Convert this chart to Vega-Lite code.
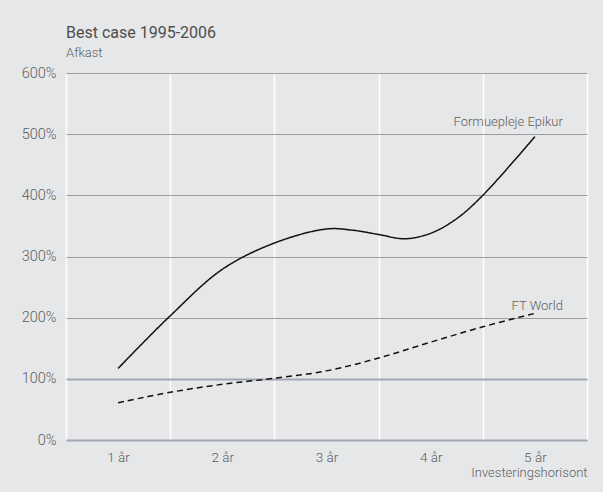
{
  "$schema": "https://vega.github.io/schema/vega-lite/v6.json",
  "width": 521,
  "height": 367,
  "autosize": {"type": "none"},
  "padding": {"left": 66, "top": 73, "right": 16, "bottom": 52},
  "background": "#e6e7e8",
  "title": {
    "text": "Best case 1995-2006",
    "subtitle": "Afkast",
    "anchor": "start",
    "frame": "group",
    "font": "Roboto",
    "fontSize": 16,
    "fontWeight": 400,
    "color": "#4d4e50",
    "subtitleFont": "Roboto",
    "subtitleFontSize": 13,
    "subtitleFontWeight": 300,
    "subtitleColor": "#5d5e61",
    "subtitlePadding": 6,
    "offset": 5
  },
  "config": {
    "view": {"stroke": null, "fill": "#e6e7e8"},
    "font": "Roboto"
  },
  "datasets": {
    "lines": [
      {"series": "Formuepleje Epikur", "t": 1.0, "v": 1.17},
      {"series": "Formuepleje Epikur", "t": 1.5, "v": 2.03},
      {"series": "Formuepleje Epikur", "t": 2.0, "v": 2.79},
      {"series": "Formuepleje Epikur", "t": 2.5, "v": 3.22},
      {"series": "Formuepleje Epikur", "t": 3.0, "v": 3.45},
      {"series": "Formuepleje Epikur", "t": 3.25, "v": 3.43},
      {"series": "Formuepleje Epikur", "t": 3.5, "v": 3.36},
      {"series": "Formuepleje Epikur", "t": 3.75, "v": 3.29},
      {"series": "Formuepleje Epikur", "t": 4.0, "v": 3.38},
      {"series": "Formuepleje Epikur", "t": 4.25, "v": 3.62},
      {"series": "Formuepleje Epikur", "t": 4.5, "v": 4.0},
      {"series": "Formuepleje Epikur", "t": 5.0, "v": 4.96},
      {"series": "FT World", "t": 1.0, "v": 0.61},
      {"series": "FT World", "t": 1.5, "v": 0.78},
      {"series": "FT World", "t": 2.0, "v": 0.91},
      {"series": "FT World", "t": 2.5, "v": 1.01},
      {"series": "FT World", "t": 3.0, "v": 1.13},
      {"series": "FT World", "t": 3.5, "v": 1.34},
      {"series": "FT World", "t": 4.0, "v": 1.6},
      {"series": "FT World", "t": 4.5, "v": 1.85},
      {"series": "FT World", "t": 5.0, "v": 2.07}
    ],
    "labels": [
      {"series": "Formuepleje Epikur", "t": 5.0, "v": 5.0},
      {"series": "FT World", "t": 5.0, "v": 2.0}
    ]
  },
  "layer": [
    {
      "data": {"name": "lines"},
      "mark": {"type": "line", "interpolate": "catmull-rom", "strokeWidth": 1.5, "color": "#111111"},
      "encoding": {
        "x": {
          "field": "t",
          "type": "quantitative",
          "scale": {"domain": [0.5, 5.5], "nice": false, "zero": false},
          "axis": {
            "values": [0.5, 1, 1.5, 2, 2.5, 3, 3.5, 4, 4.5, 5, 5.5],
            "labelExpr": "datum.value % 1 == 0 ? datum.value + ' år' : ''",
            "ticks": false,
            "grid": true,
            "gridColor": {"condition": {"test": "datum.value % 1 != 0", "value": "#ffffff"}, "value": "transparent"},
            "gridWidth": 1.5,
            "domain": true,
            "domainColor": "#a3a6b3",
            "domainWidth": 2,
            "labelFont": "Roboto",
            "labelFontWeight": 300,
            "labelFontSize": 13.5,
            "labelColor": "#5d5e61",
            "labelPadding": 10,
            "labelFlush": false,
            "title": "Investeringshorisont",
            "titleAnchor": "end",
            "titleFont": "Roboto",
            "titleFontSize": 13,
            "titleFontWeight": 300,
            "titleColor": "#5d5e61",
            "titlePadding": 3
          }
        },
        "y": {
          "field": "v",
          "type": "quantitative",
          "scale": {"domain": [0, 6], "nice": false},
          "axis": {
            "values": [0, 1, 2, 3, 4, 5, 6],
            "labelExpr": "round(datum.value * 100) + '%'",
            "ticks": false,
            "domain": false,
            "grid": true,
            "gridColor": {"condition": {"test": "datum.value == 1", "value": "#a3a6b3"}, "value": "#9d9d9f"},
            "gridWidth": {"condition": {"test": "datum.value == 1", "value": 2}, "value": 1},
            "labelFont": "Roboto",
            "labelFontWeight": 300,
            "labelFontSize": 14.5,
            "labelColor": "#5d5e61",
            "labelPadding": 10,
            "title": null
          }
        },
        "strokeDash": {
          "field": "series",
          "type": "nominal",
          "scale": {"domain": ["Formuepleje Epikur", "FT World"], "range": [[1, 0], [6, 4]]},
          "legend": null
        }
      }
    },
    {
      "data": {"name": "labels"},
      "mark": {"type": "text", "align": "right", "baseline": "alphabetic", "dx": 28, "dy": -8, "font": "Roboto", "fontWeight": 300, "fontSize": 13, "color": "#5d5e61"},
      "encoding": {
        "x": {"field": "t", "type": "quantitative"},
        "y": {"field": "v", "type": "quantitative"},
        "text": {"field": "series"}
      }
    }
  ]
}
